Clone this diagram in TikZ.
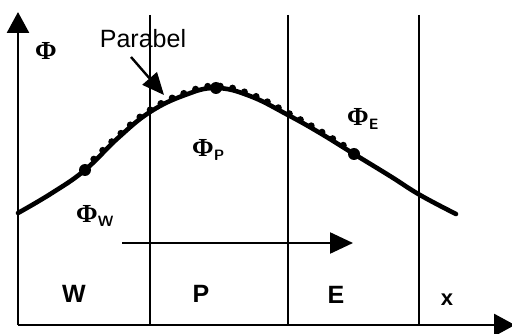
\documentclass[tikz,border=0pt]{standalone}
\usepackage{fontspec}
\setmainfont{Liberation Sans}
\newfontfamily\phifont{Liberation Serif}
\usetikzlibrary{arrows.meta}
\begin{document}
\begin{tikzpicture}[x=1pt,y=-1pt,
  axis/.style={line width=2.8pt,-{Triangle[length=21pt,width=22pt]}},
  cell/.style={line width=1.4pt},
  curve/.style={line width=4.6pt,line cap=round},
  pdots/.style={line width=7pt,line cap=round,dash pattern=on 0pt off 12.5pt},
  bigdot/.style={circle,fill=black,inner sep=0pt,minimum size=12pt},
  lbl/.style={font=\fontsize{25}{25}\selectfont\bfseries,inner sep=0pt},
  phi/.style={font=\fontsize{26}{26}\selectfont,inner sep=0pt},
  flow/.style={line width=2.4pt,-{Triangle[length=23pt,width=21pt]}},
  pointer/.style={line width=2.4pt,-{Triangle[length=22pt,width=19pt]}}]
\useasboundingbox (0,0) rectangle (512,334);
% coordinates
\coordinate (o) at (18,325);
\coordinate (ytip) at (18,12);
\coordinate (xtip) at (515,325);
\coordinate (v1t) at (150,15); \coordinate (v1b) at (150,325);
\coordinate (v2t) at (288,15); \coordinate (v2b) at (288,325);
\coordinate (v3t) at (419,15); \coordinate (v3b) at (419,325);
% cell lines
\draw[cell] (v1t) -- (v1b);
\draw[cell] (v2t) -- (v2b);
\draw[cell] (v3t) -- (v3b);
% axes
\draw[axis] (o) -- (ytip);
\draw[axis] (o) -- (xtip);
% curve
\draw[curve] plot[smooth,tension=0.7] coordinates {(18,213) (52,193) (85,170) (118,138) (150,112) (185,95) (216,88) (250,96) (288,115) (320,133) (354,154) (390,176) (420,195) (456,214)};
% parabola dots
\draw[pdots] plot[smooth,tension=0.7] coordinates {(85,168) (118,136) (150,110) (185,93) (216,86) (250,94) (288,113) (320,131) (354,152)};
\node[bigdot] (W) at (85,170) {};
\node[bigdot] (P) at (216,88) {};
\node[bigdot] (E) at (354,154) {};
% labels
\node[phi] (phi) at (46,51) {\phifont\bfseries Φ};
\node[phi,anchor=west] (phiP) at (192,150) {\phifont\bfseries Φ\raisebox{-4pt}{\fontsize{15}{15}\selectfont\sffamily\bfseries P}};
\node[phi,anchor=west] (phiE) at (347,119) {\phifont\bfseries Φ\raisebox{-4pt}{\fontsize{15}{15}\selectfont\sffamily\bfseries E}};
\node[phi,anchor=west] (phiW) at (76,216) {\phifont\bfseries Φ\raisebox{-4pt}{\fontsize{15}{15}\selectfont\sffamily\bfseries W}};
\node[font=\fontsize{25}{25}\selectfont,inner sep=0pt] (parabel) at (143,39) {Parabel};
\coordinate (pa) at (131,57);
\coordinate (pb) at (164,95);
\draw[pointer] (pa) -- (pb);
% flow arrow
\coordinate (fa) at (122,243);
\coordinate (fb) at (353,243);
\draw[flow] (fa) -- (fb);
% cell letters
\node[lbl] (cW) at (74,294) {W};
\node[lbl] (cP) at (201,294) {P};
\node[lbl] (cE) at (336,295) {E};
\node[lbl,font=\fontsize{22}{22}\selectfont\bfseries] (cx) at (447,300) {x};
\end{tikzpicture}
\end{document}
